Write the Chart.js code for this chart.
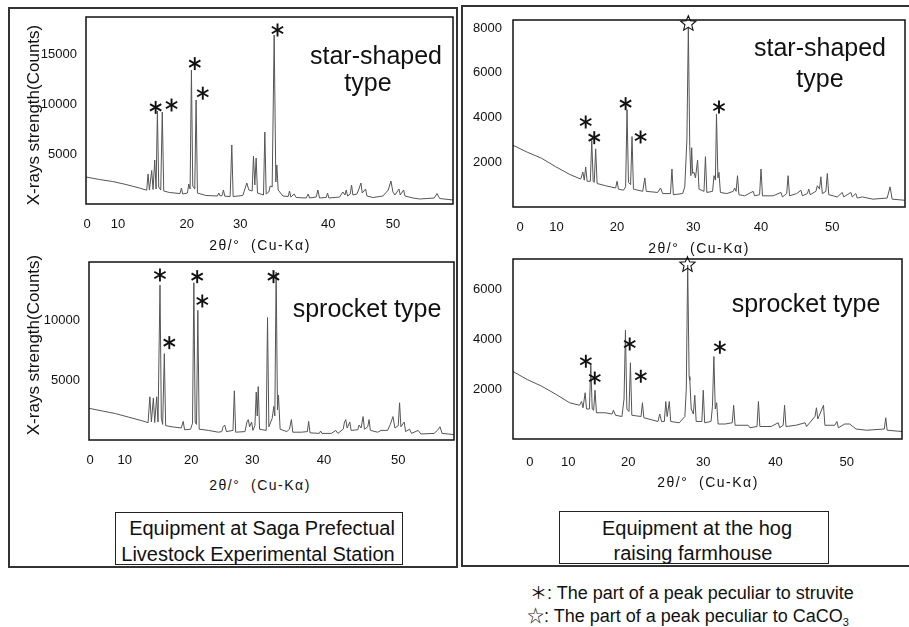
<!DOCTYPE html>
<html>
<head>
<meta charset="utf-8">
<script src="https://cdn.jsdelivr.net/npm/chart.js@4.4.1/dist/chart.umd.min.js"></script>
<style>
  body { margin: 0; background: #fff; }
  #page { position: relative; width: 909px; height: 627px; overflow: hidden; background: #fff;
          font-family: "Liberation Sans", Arial, sans-serif; color: #111; }
  .panel { position: absolute; border: 2px solid #333; box-sizing: border-box; }
  .plot { position: absolute; }
  .txt { position: absolute; white-space: pre; transform: translate(-50%, -50%); line-height: 1; }
  .ytitle { position: absolute; white-space: pre; font-size: 17px; line-height: 1;
            transform: translate(-50%, -50%) rotate(-90deg); }
  .xtitle { font-size: 14px; letter-spacing: 1.5px; }
  .kind { font-size: 25px; }
  .box { position: absolute; border: 1px solid #222; box-sizing: border-box; }
  .boxtxt { font-size: 20px; }
  .legend { position: absolute; font-size: 18px; white-space: pre; line-height: 20px; height: 20px; }
  .legend .sym { font-family: "Noto Sans CJK JP", sans-serif; font-size: 17px; line-height: 20px; }
  .legend sub { font-size: 11px; vertical-align: baseline; position: relative; top: 4px; line-height: 0; }
</style>
</head>
<body>
<div id="page">
  <div class="panel" style="left:8px;top:7px;width:450px;height:561px;"></div>
  <div class="panel" style="left:461px;top:5px;width:460px;height:562px;"></div>

  <div class="plot" id="wTL"><canvas id="cTL"></canvas></div>
  <div class="plot" id="wBL"><canvas id="cBL"></canvas></div>
  <div class="plot" id="wTR"><canvas id="cTR"></canvas></div>
  <div class="plot" id="wBR"><canvas id="cBR"></canvas></div>

  <div class="ytitle" style="left:33px;top:115px;">X-rays strength(Counts)</div>
  <div class="ytitle" style="left:33px;top:345px;">X-rays strength(Counts)</div>

  <div class="txt xtitle" style="left:260px;top:245px;">2θ/°  (Cu-Kα)</div>
  <div class="txt xtitle" style="left:260px;top:485px;">2θ/°  (Cu-Kα)</div>
  <div class="txt xtitle" style="left:699px;top:248px;">2θ/°  (Cu-Kα)</div>
  <div class="txt xtitle" style="left:708px;top:482px;">2θ/°  (Cu-Kα)</div>

  <div class="txt kind" style="left:376px;top:55px;">star-shaped</div>
  <div class="txt kind" style="left:368px;top:82px;">type</div>
  <div class="txt kind" style="left:367px;top:308px;">sprocket type</div>
  <div class="txt kind" style="left:820px;top:47px;">star-shaped</div>
  <div class="txt kind" style="left:820px;top:78px;">type</div>
  <div class="txt kind" style="left:806px;top:303px;">sprocket type</div>

  <div class="box" style="left:115px;top:512px;width:288px;height:53px;"></div>
  <div class="txt boxtxt" style="left:262px;top:528px;">Equipment at Saga Prefectual</div>
  <div class="txt boxtxt" style="left:258px;top:554px;">Livestock Experimental Station</div>
  <div class="box" style="left:559px;top:511px;width:270px;height:53px;"></div>
  <div class="txt boxtxt" style="left:697px;top:528px;">Equipment at the hog</div>
  <div class="txt boxtxt" style="left:693px;top:553px;">raising farmhouse</div>

  <div class="legend" style="left:530px;top:582px;"><span class="sym">＊</span>: The part of a peak peculiar to struvite</div>
  <div class="legend" style="left:527px;top:605px;"><span class="sym">☆</span>: The part of a peak peculiar to CaCO<sub>3</sub></div>
</div>

<script>
// 2θ (deg) vs counts
const sagaStar = [[5,2700],[7,2450],[9,2250],[11,1950],[13,1600],[14.1,1380],[14.3,3000],[14.5,1400],[14.85,3350],[15.05,1450],
  [15.3,4400],[15.5,1500],[15.7,9300],[15.9,1700],[16.2,1400],[16.43,9200],[16.65,1300],[17.5,1150],[19.1,1050],[19.3,1600],
  [19.5,1000],[20.2,1100],[20.4,2000],[20.6,1500],[20.8,13400],[21.0,1800],[21.3,1500],[21.5,10400],[21.7,1100],[23,850],
  [24.7,800],[24.9,1100],[25.1,800],[25.4,850],[25.6,1400],[25.8,780],[26.6,750],[26.85,5900],[27.05,750],[28.5,850],
  [29.1,2100],[29.4,1400],[29.9,1300],[30.1,4800],[30.3,1900],[30.5,4600],[30.7,1100],[31.6,900],[31.8,7200],[32.0,1000],
  [32.4,1200],[32.6,1800],[32.9,1700],[33.2,16900],[33.45,2200],[33.6,3900],[33.8,1400],[34.5,800],[35.3,750],[35.5,1300],
  [35.7,700],[36.2,1000],[36.5,650],[38,600],[38.3,1000],[38.5,600],[39.5,700],[39.75,1400],[40,600],[41,650],
  [41.2,1100],[41.4,600],[43,700],[43.5,1200],[43.8,900],[44.0,1400],[44.2,800],[44.6,1000],[44.8,1900],[45.0,900],
  [45.6,1000],[45.9,1500],[46.2,2100],[46.4,1100],[46.9,1500],[47.1,800],[48,650],[49.5,800],[50.3,1400],[50.7,2300],
  [51.0,1200],[51.3,900],[51.9,1500],[52.1,900],[52.6,1400],[52.8,800],[54,600],[55,500],[57.2,600],[57.6,1050],[58,550],[60,400]];

const sagaSprocket = [[5,2640],[7,2420],[9,2200],[11,1900],[13,1600],[13.9,1450],[14.17,3600],[14.4,1500],[14.7,3500],[14.9,1450],
  [15.2,3600],[15.4,1500],[15.7,12900],[15.9,1800],[16.1,1300],[16.35,7200],[16.55,1200],[17.5,1100],[18.9,1000],[19.2,1550],
  [19.4,850],[20.3,900],[20.6,1400],[20.8,13100],[21.0,1500],[21.2,1300],[21.4,10800],[21.6,900],[23,800],[24.5,650],
  [25.0,700],[25.2,1100],[25.45,1250],[25.7,700],[26.7,800],[26.9,4100],[27.1,650],[28.5,700],[28.8,1500],[29.0,1700],
  [29.2,1100],[29.5,1500],[29.7,800],[30.0,1200],[30.2,4000],[30.35,2000],[30.5,4450],[30.7,900],[31.7,800],[31.9,10200],
  [32.1,1100],[32.6,1800],[32.85,2800],[33.0,2000],[33.2,14000],[33.4,2500],[33.55,3750],[33.8,900],[34.8,700],[35.2,900],
  [35.5,1700],[35.7,650],[37,650],[37.9,700],[38.1,1550],[38.3,600],[39.7,550],[39.9,750],[40.1,550],[41.5,550],
  [42.2,800],[42.5,550],[43.3,900],[43.5,1500],[43.7,1700],[43.9,1000],[44.3,1500],[44.5,800],[45.5,850],[45.7,1250],
  [46.0,1000],[46.3,1950],[46.5,900],[47.0,1100],[47.2,1700],[47.4,800],[48.5,650],[49.0,800],[50.0,800],[50.4,1300],
  [50.8,1950],[51.1,1000],[51.6,1200],[51.8,3100],[52.0,1100],[52.5,1500],[52.7,700],[53.3,900],[53.6,550],[54.6,800],
  [55,500],[57,550],[57.5,800],[57.9,1100],[58.2,550],[60,450]];

const hogStar = [[5,2760],[7,2450],[9,2180],[11,1800],[13,1450],[14.5,1250],[14.8,1560],[15.0,1200],[15.2,1790],[15.4,1150],
  [15.85,1150],[16.05,2980],[16.25,1150],[16.4,1100],[16.6,2600],[16.8,1050],[18,950],[19.4,850],[19.6,1150],[19.8,800],
  [20.5,750],[20.8,900],[21.0,4350],[21.2,1100],[21.5,1000],[21.7,3150],[21.9,800],[23.2,700],[23.5,1300],[23.7,700],
  [25.3,650],[25.7,850],[26,600],[27.1,600],[27.3,1700],[27.5,550],[28.8,600],[29.1,900],[29.4,3000],[29.6,8050],
  [29.8,2700],[29.95,1400],[30.07,2650],[30.2,1500],[30.4,1550],[30.6,1300],[30.9,2100],[31.1,800],[31.8,700],[32.0,2250],
  [32.2,650],[33.0,700],[33.2,1400],[33.4,1200],[33.55,4150],[33.75,1300],[33.9,1550],[34.1,650],[35,600],[35.9,700],
  [36.1,850],[36.3,700],[36.5,1400],[36.7,550],[37.5,500],[38.7,700],[38.9,500],[39.6,550],[39.8,1700],[40,500],
  [41.5,500],[42.6,650],[42.8,450],[43.4,600],[43.6,1400],[43.8,500],[44.8,600],[45.4,750],[45.6,500],[46.3,600],
  [46.5,800],[46.7,550],[47.5,700],[47.7,950],[48,800],[48.2,1350],[48.4,600],[48.9,700],[49.1,1500],[49.3,550],
  [50.5,450],[51.2,650],[51.4,450],[52.4,650],[52.6,450],[53.1,600],[53.3,400],[54,450],[55.5,350],[57.5,400],
  [57.9,900],[58.2,350],[60,300]];

const hogSprocket = [[5,2700],[7,2380],[9,2120],[11,1800],[13,1450],[14.4,1350],[14.7,1500],[14.9,1250],[15.2,1850],[15.4,1200],
  [15.8,1200],[16.0,2950],[16.2,1200],[16.4,1150],[16.6,1950],[16.8,1050],[18,1050],[19.0,1000],[19.2,1150],[19.5,950],
  [20.4,900],[20.7,1600],[20.9,4350],[21.1,1200],[21.4,1100],[21.6,3050],[21.8,950],[23.1,900],[23.3,1450],[23.5,850],
  [25.5,700],[25.75,1000],[26.0,700],[26.4,700],[26.6,1500],[26.8,900],[27.1,1500],[27.3,700],[28.5,650],[29.3,900],
  [29.5,2000],[29.7,6950],[29.9,2500],[30.0,2350],[30.2,1200],[30.5,1000],[30.7,1750],[30.9,700],[31.7,700],[31.9,1950],
  [32.1,650],[33.0,700],[33.2,1300],[33.4,3300],[33.6,1200],[33.8,1450],[34,600],[35,600],[36.0,650],[36.2,1350],
  [36.4,550],[38.25,550],[38.5,450],[39.5,500],[39.7,1500],[39.9,500],[41.5,500],[42.5,650],[42.7,450],[43.2,550],
  [43.4,1350],[43.6,500],[45,550],[46.3,650],[46.5,500],[47.7,900],[47.9,1250],[48.1,800],[48.9,1350],[49.1,550],
  [50.5,550],[50.8,700],[51.0,450],[51.9,600],[52.6,600],[53.5,400],[55,350],[57.5,400],[57.7,850],[57.9,350],[60,300]];

// x tick labels as printed (the scan's labels sit at these 2θ positions)
const xTickLabels = ['0', '10', '20', '30', '40', '50'];
const xTickAtSagaStar = [5.15, 9.8, 20.1, 28.1, 41.3, 51.0];
const xTickAtSagaSprocket = [5.15, 10.4, 20.4, 29.6, 40.4, 51.6];
const xTickAtHogStar = [6.0, 11.1, 19.6, 30.3, 39.8, 49.8];
const xTickAtHogSprocket = [7.4, 12.8, 21.3, 31.9, 42.1, 52.2];

// y ticks and ranges
const yTicksSagaStar = [5000, 10000, 15000];
const yTicksSagaSprocket = [5000, 10000];
const yTicksHogStar = [2000, 4000, 6000, 8000];
const yTicksHogSprocket = [2000, 4000, 6000];
const yMaxSagaStar = 18700, yMaxSagaSprocket = 14830, yMaxHogStar = 8360, yMaxHogSprocket = 7200;

// peak marks: struvite (asterisk) and CaCO3 (star)
const struviteSagaStar = [[15.44, 9660], [17.82, 9900], [21.3, 14040], [22.5, 11080], [33.7, 17400]];
const struviteSagaSprocket = [[15.69, 13750], [17.1, 8110], [21.3, 13610], [22.07, 11580], [32.8, 13610]];
const struviteHogStar = [[15.2, 3800], [16.4, 3100], [20.8, 4620], [22.9, 3130], [33.9, 4470]];
const struviteHogSprocket = [[15.3, 3110], [16.56, 2440], [21.5, 3800], [23.07, 2510], [34.25, 3670]];
const calciteHogStar = [[29.6, 8195]];
const calciteHogSprocket = [[29.67, 6970]];

const PAD_T = 10, PAD_R = 4, Y_W = 60, X_H = 32;

function drawAsterisk(ctx, cx, cy, r) {
    [90, 30, -30].forEach(a => {
        const t = a * Math.PI / 180;
        ctx.beginPath();
        ctx.moveTo(cx - r * Math.cos(t), cy - r * Math.sin(t));
        ctx.lineTo(cx + r * Math.cos(t), cy + r * Math.sin(t));
        ctx.stroke();
    });
}

function drawStar(ctx, cx, cy, ro, ri) {
    ctx.beginPath();
    for (let i = 0; i < 10; i++) {
        const r = i % 2 ? ri : ro;
        const t = -Math.PI / 2 + i * Math.PI / 5;
        const px = cx + r * Math.cos(t), py = cy + r * Math.sin(t);
        if (i === 0) ctx.moveTo(px, py); else ctx.lineTo(px, py);
    }
    ctx.closePath();
    ctx.stroke();
}

const framePlugin = {
    id: 'frame',
    afterDraw(chart) {
        const { ctx, chartArea: a } = chart;
        ctx.save();
        ctx.strokeStyle = '#111';
        ctx.lineWidth = 1.5;
        ctx.strokeRect(a.left, a.top, a.right - a.left, a.bottom - a.top);
        ctx.restore();
    }
};

const marksPlugin = {
    id: 'marks',
    afterDraw(chart, args, opts) {
        const { ctx, scales: { x, y } } = chart;
        ctx.save();
        ctx.strokeStyle = '#111';
        ctx.lineWidth = 1.9;
        (opts.struvite || []).forEach(([dx, dy]) => drawAsterisk(ctx, x.getPixelForValue(dx), y.getPixelForValue(dy), 6.5));
        ctx.lineWidth = 1.1;
        (opts.calcite || []).forEach(([dx, dy]) => drawStar(ctx, x.getPixelForValue(dx), y.getPixelForValue(dy), 8, 3.6));
        ctx.restore();
    }
};

function makeChart(key, box, pts, xTickAt, yTicks, yMax, struvite, calcite, xPad, yPad) {
    const w = document.getElementById('w' + key);
    const c = document.getElementById('c' + key);
    const width = (box.r - box.l) + Y_W + PAD_R;
    const height = (box.b - box.t) + PAD_T + X_H;
    w.style.left = (box.l - Y_W) + 'px';
    w.style.top = (box.t - PAD_T) + 'px';
    c.width = width;
    c.height = height;

    return new Chart(c, {
        type: 'line',
        data: {
            datasets: [{
                data: pts.map(([x, y]) => ({ x, y })),
                borderColor: '#555',
                borderWidth: 1,
                pointRadius: 0,
                tension: 0
            }]
        },
        options: {
            responsive: false,
            animation: false,
            layout: { padding: { top: PAD_T, right: PAD_R, left: 0, bottom: 0 } },
            scales: {
                x: {
                    type: 'linear', min: 5, max: 60,
                    grid: { display: false, drawTicks: false },
                    border: { display: false },
                    afterBuildTicks: s => { s.ticks = xTickAt.map(v => ({ value: v })); },
                    afterFit: s => { s.height = X_H; s.paddingLeft = 0; s.paddingRight = 0; },
                    ticks: {
                        autoSkip: false, maxRotation: 0, padding: xPad, color: '#111',
                        font: { family: 'Liberation Sans', size: 13 },
                        callback: (v, i) => xTickLabels[i]
                    }
                },
                y: {
                    min: 0, max: yMax,
                    grid: { display: false, drawTicks: false },
                    border: { display: false },
                    afterBuildTicks: s => { s.ticks = yTicks.map(v => ({ value: v })); },
                    afterFit: s => { s.width = Y_W; s.paddingTop = 0; s.paddingBottom = 0; },
                    ticks: {
                        padding: yPad, color: '#111',
                        font: { family: 'Liberation Sans', size: 13 },
                        callback: v => String(v)
                    }
                }
            },
            plugins: {
                legend: { display: false },
                tooltip: { enabled: false },
                marks: { struvite, calcite }
            }
        },
        plugins: [framePlugin, marksPlugin]
    });
}

makeChart('TL', { l: 86, t: 17, r: 453, b: 204 }, sagaStar, xTickAtSagaStar, yTicksSagaStar, yMaxSagaStar,
    struviteSagaStar, [], 13, 9);
makeChart('BL', { l: 89, t: 262, r: 454, b: 440 }, sagaSprocket, xTickAtSagaSprocket, yTicksSagaSprocket, yMaxSagaSprocket,
    struviteSagaSprocket, [], 13, 9);
makeChart('TR', { l: 513, t: 20, r: 905, b: 207 }, hogStar, xTickAtHogStar, yTicksHogStar, yMaxHogStar,
    struviteHogStar, calciteHogStar, 13, 11);
makeChart('BR', { l: 513, t: 259, r: 902, b: 439 }, hogSprocket, xTickAtHogSprocket, yTicksHogSprocket, yMaxHogSprocket,
    struviteHogSprocket, calciteHogSprocket, 16, 11);
</script>
</body>
</html>
